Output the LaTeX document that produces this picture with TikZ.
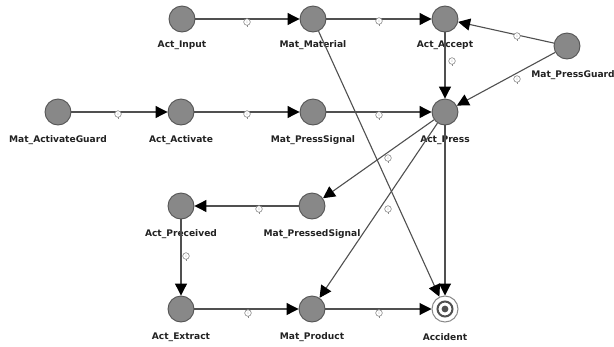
\documentclass[tikz,border=0pt]{standalone}
\usepackage{fontspec}
\setmainfont{DejaVu Sans}
\usetikzlibrary{arrows.meta}
\definecolor{nfill}{HTML}{888888}
\definecolor{ndraw}{HTML}{555555}
\definecolor{ecol}{HTML}{505050}
\definecolor{mkc}{HTML}{8A8A8A}
\definecolor{tcol}{HTML}{222222}
\tikzset{
  place/.style={circle,fill=nfill,draw=ndraw,line width=0.9pt,minimum size=26pt,inner sep=0pt},
  acc/.style={circle,fill=white,draw=mkc,line width=1pt,minimum size=26pt,inner sep=0pt},
  lab/.style={font=\bfseries\fontsize{9.1}{10}\selectfont,text=tcol,inner sep=0pt},
  conn/.style={draw=ecol,line width=1.1pt,-{Triangle[length=12pt,width=12pt,color=black]}},
  mk/.pic={\draw[mkc,line width=0.6pt,fill=white] (0,0) circle (3.3);
           \draw[mkc,line width=0.6pt] (0,3.3)--(0,5);
           \node[inner sep=0,font=\fontsize{3.5}{4}\selectfont,text=mkc] at (0,0){i};}
}
\begin{document}
\begin{tikzpicture}[x=1pt,y=-1pt]
\useasboundingbox (0,0) rectangle (614,346);
\fill[white] (0,0) rectangle (614,346);
% nodes
\node[place] (ain) at (182,19) {};
\node[place] (mmat) at (313,19) {};
\node[place] (aacc) at (445,19) {};
\node[place] (mpg) at (567,46) {};
\node[place] (mag) at (58,112) {};
\node[place] (aact) at (181,112) {};
\node[place] (mps) at (313,112) {};
\node[place] (apr) at (445,112) {};
\node[place] (arec) at (181,206) {};
\node[place] (mpsd) at (312,206) {};
\node[place] (aext) at (181,309) {};
\node[place] (mprod) at (312,309) {};
\node[acc] (accd) at (445,309) {};
\draw[ecol,line width=2pt] (accd.center) circle (7.5);
\fill[ecol] (accd.center) circle (3.4);
% labels
\node[lab] (lain) at (182,45) {Act\_Input};
\node[lab] (lmmat) at (313,45) {Mat\_Material};
\node[lab] (laacc) at (445,45) {Act\_Accept};
\node[lab] (lmpg) at (573,75) {Mat\_PressGuard};
\node[lab] (lmag) at (58,140) {Mat\_ActivateGuard};
\node[lab] (laact) at (181,140) {Act\_Activate};
\node[lab] (lmps) at (313,140) {Mat\_PressSignal};
\node[lab] (lapr) at (445,140) {Act\_Press};
\node[lab] (larec) at (181,234) {Act\_Preceived};
\node[lab] (lmpsd) at (312,234) {Mat\_PressedSignal};
\node[lab] (laext) at (181,337) {Act\_Extract};
\node[lab] (lmprod) at (312,337) {Mat\_Product};
\node[lab] (laccd) at (445,337) {Accident};
% connectors
\draw[conn] (ain) -- (mmat);
\draw[conn] (mmat) -- (aacc);
\draw[conn] (mpg) -- (aacc);
\draw[conn] (mpg) -- (apr);
\draw[conn] (aacc) -- (apr);
\draw[conn] (mag) -- (aact);
\draw[conn] (aact) -- (mps);
\draw[conn] (mps) -- (apr);
\draw[conn] (mmat) -- (accd);
\draw[conn] (apr) -- (mpsd);
\draw[conn] (apr) -- (mprod);
\draw[conn] (apr) -- (accd);
\draw[conn] (mpsd) -- (arec);
\draw[conn] (arec) -- (aext);
\draw[conn] (aext) -- (mprod);
\draw[conn] (mprod) -- (accd);
% markers
\pic at (247,22) {mk};
\pic at (379,21) {mk};
\pic at (517,36) {mk};
\pic at (517,79) {mk};
\pic at (452,61) {mk};
\pic at (118,114) {mk};
\pic at (247,114) {mk};
\pic at (379,115) {mk};
\pic at (388,158) {mk};
\pic at (388,209) {mk};
\pic at (259,209) {mk};
\pic at (186,256) {mk};
\pic at (248,313) {mk};
\pic at (379,313) {mk};
\end{tikzpicture}
\end{document}
